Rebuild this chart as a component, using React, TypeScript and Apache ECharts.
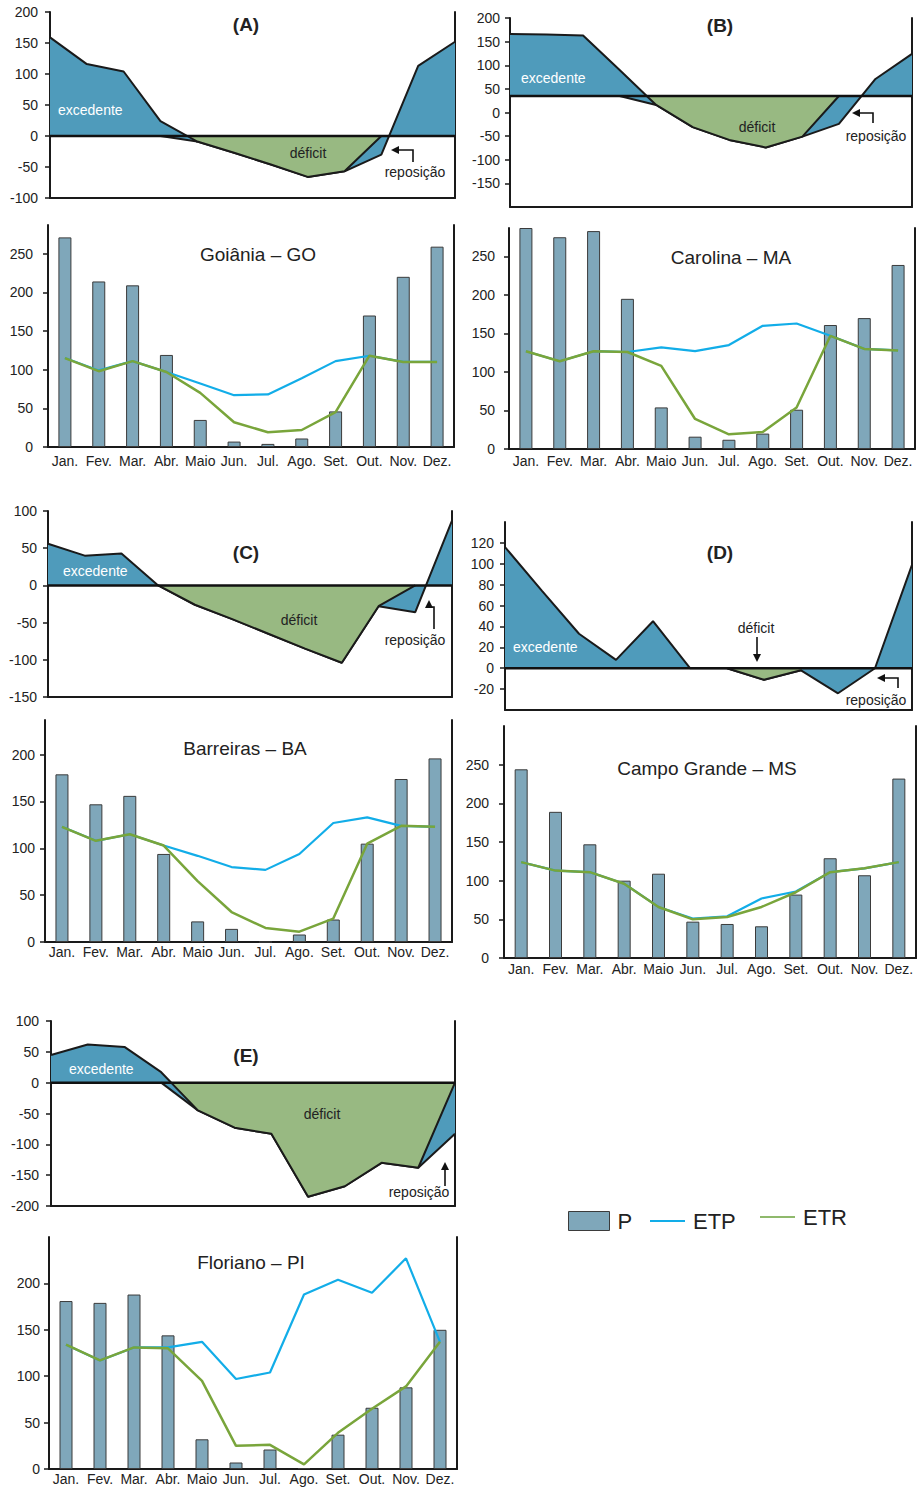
import React, { useEffect, useRef } from 'react';
import * as echarts from 'echarts';

const FONT = 'Liberation Sans, Arial, Helvetica, sans-serif';
const AX = '#1a1a1a';
const TXT = '#222222';
const BLUE = '#4f9bbb';
const GREEN = '#98b982';
const BAR = '#7fa7ba';
const ETPC = '#12ade8';
const ETRC = '#79a53b';

const months = ['Jan.', 'Fev.', 'Mar.', 'Abr.', 'Maio', 'Jun.', 'Jul.', 'Ago.', 'Set.', 'Out.', 'Nov.', 'Dez.'];

// Goiânia – GO
const goP = [271, 214, 209, 119, 35, 7, 4, 11, 46, 170, 220, 259];
const goETP = [115, 99, 111, 97, 82, 67, 68, 89, 111, 118, 110, 110];
const goETR = [115, 98, 111, 97, 70, 32, 19, 22, 45, 118, 110, 110];
// Carolina – MA
const caP = [287, 275, 283, 195, 54, 16, 12, 20, 51, 161, 170, 239];
const caETP = [127, 114, 127, 126, 132, 127, 135, 160, 163, 147, 130, 128];
const caETR = [127, 114, 127, 126, 108, 39, 19, 22, 54, 147, 130, 128];
// Barreiras – BA
const baP = [179, 147, 156, 94, 22, 14, 0, 8, 24, 105, 174, 196];
const baETP = [123, 108, 115, 103, 92, 80, 77, 94, 127, 133, 124, 123];
const baETR = [123, 108, 115, 103, 65, 32, 15, 11, 25, 105, 124, 123];
// Campo Grande – MS
const cgP = [244, 189, 147, 100, 109, 47, 44, 41, 82, 129, 107, 232];
const cgETP = [124, 113, 111, 96, 66, 51, 54, 77, 86, 111, 116, 124];
const cgETR = [124, 113, 111, 96, 66, 50, 53, 66, 85, 111, 116, 124];
// Floriano – PI
const flP = [181, 179, 188, 144, 32, 7, 21, 1, 37, 66, 88, 150];
const flETP = [134, 117, 131, 131, 137, 97, 104, 188, 204, 190, 227, 137];
const flETR = [134, 117, 131, 130, 95, 25, 26, 5, 39, 65, 89, 137];

// Water balance panels (A)–(E)
const aTop = [159, 116, 104, 24, -9, -27, -46, -66, -57, -30, 113, 152];
const aRet = [[3, 0], [4, -9]];
const aDef = [[3.73, 0], [4, -9], [5, -27], [6, -46], [7, -66], [8, -57], [9, 0]];
const bBase = 35;
const bTop = [166, 165, 163, 90, 16, -31, -58, -74, -51, -24, 71, 124];
const bRet = [[3, 35], [4, 16]];
const bDef = [[3.74, 35], [4, 16], [5, -31], [6, -58], [7, -74], [8, -51], [9, 35]];
const cTop = [56, 40, 43, 0, -26, -45, -65, -85, -104, -28, -36, 87];
const cDef = [[3, 0], [4, -26], [5, -45], [6, -65], [7, -85], [8, -104], [9, -28], [10, 0]];
const dTop = [116, 74, 33, 8, 45, 0, 0, -11, -2, -24, 0, 99];
const dDef = [[6, 0], [7, -11], [8, -2]];
const eTop = [45, 62, 58, 17, -45, -73, -83, -185, -168, -130, -138, -83];
const eRet = [[3, 0], [4, -45]];
const eDef = [[3.27, 0], [4, -45], [5, -73], [6, -83], [7, -185], [8, -168], [9, -130], [10, -138], [11, 0]];

const ticksA = [-100, -50, 0, 50, 100, 150, 200];
const ticksB = [-150, -100, -50, 0, 50, 100, 150, 200];
const ticksC = [-150, -100, -50, 0, 50, 100];
const ticksD = [-20, 0, 20, 40, 60, 80, 100, 120];
const ticksE = [-200, -150, -100, -50, 0, 50, 100];
const ticks250 = [0, 50, 100, 150, 200, 250];
const ticks200 = [0, 50, 100, 150, 200];

type GridDef = { left: number; top: number; width: number; height: number };

function buildOption() {
  const grids: any[] = [];
  const xAxes: any[] = [];
  const yAxes: any[] = [];
  const series: any[] = [];

  const addAxesY = (g: number, min: number, max: number, ticks: number[], margin: number) => {
    yAxes.push({
      type: 'value', gridIndex: g, position: 'left', min, max,
      axisLine: { show: true, onZero: false, lineStyle: { color: AX, width: 2 } },
      axisTick: { show: true, length: 5, customValues: ticks, lineStyle: { color: AX, width: 1.5 } },
      axisLabel: {
        customValues: ticks, margin, fontSize: 14, color: TXT, fontFamily: FONT,
        formatter: (v: number) => (ticks.indexOf(v) >= 0 ? String(v) : ''),
      },
      splitLine: { show: false },
    });
    yAxes.push({
      type: 'value', gridIndex: g, position: 'right', min, max,
      axisLine: { show: true, onZero: false, lineStyle: { color: AX, width: 2 } },
      axisTick: { show: false }, axisLabel: { show: false }, splitLine: { show: false },
    });
  };

  const addWB = (grid: GridDef, min: number, max: number, ticks: number[], margin: number,
    top: number[], ret: number[][] | null, def: number[][], base: number) => {
    const g = grids.length;
    grids.push({ ...grid, outerBoundsMode: 'none', containLabel: false });
    xAxes.push({
      type: 'value', gridIndex: g, min: 0, max: 11,
      axisLine: { show: true, onZero: false, lineStyle: { color: AX, width: 2 } },
      axisTick: { show: false }, axisLabel: { show: false }, splitLine: { show: false },
    });
    addAxesY(g, min, max, ticks, margin);
    const ax = { xAxisIndex: g, yAxisIndex: 2 * g };
    const outline = { color: AX, width: 2 };
    series.push({
      type: 'line', ...ax, data: top.map((v, i) => [i, v]), symbol: 'none', silent: true,
      lineStyle: outline, areaStyle: { color: BLUE, opacity: 1, origin: base }, z: 2,
    });
    if (ret) {
      series.push({
        type: 'line', ...ax, data: ret, symbol: 'none', silent: true,
        lineStyle: outline, areaStyle: { color: BLUE, opacity: 1, origin: base }, z: 3,
      });
    }
    series.push({
      type: 'line', ...ax, data: def, symbol: 'none', silent: true,
      lineStyle: outline, areaStyle: { color: GREEN, opacity: 1, origin: base }, z: 4,
    });
    series.push({
      type: 'line', ...ax, data: [[0, base], [11, base]], symbol: 'none', silent: true,
      lineStyle: { color: '#111', width: 2.5 }, z: 5,
    });
  };

  const addBars = (grid: GridDef, max: number, ticks: number[], yMargin: number, xMargin: number,
    p: number[], etp: number[], etr: number[]) => {
    const g = grids.length;
    grids.push({ ...grid, outerBoundsMode: 'none', containLabel: false });
    xAxes.push({
      type: 'category', gridIndex: g, data: months, boundaryGap: true,
      axisLine: { show: true, onZero: false, lineStyle: { color: AX, width: 2 } },
      axisTick: { show: false },
      axisLabel: { interval: 0, fontSize: 14, color: TXT, fontFamily: FONT, margin: xMargin },
      splitLine: { show: false },
    });
    addAxesY(g, 0, max, ticks, yMargin);
    const ax = { xAxisIndex: g, yAxisIndex: 2 * g };
    series.push({
      type: 'bar', name: 'P', ...ax, data: p, barWidth: 13, silent: true,
      itemStyle: { color: BAR, borderColor: '#3b3b3b', borderWidth: 1 }, z: 2,
    });
    series.push({
      type: 'line', name: 'ETP', ...ax, data: etp, symbol: 'none', silent: true, color: ETPC,
      lineStyle: { color: ETPC, width: 2.2 }, z: 3,
    });
    series.push({
      type: 'line', name: 'ETR', ...ax, data: etr, symbol: 'none', silent: true, color: ETRC,
      lineStyle: { color: ETRC, width: 2.5 }, z: 4,
    });
  };

  addWB({ left: 50, top: 12, width: 405, height: 186 }, -100, 200, ticksA, 12, aTop, aRet, aDef, 0);
  addBars({ left: 48, top: 225, width: 406, height: 222 }, 287, ticks250, 15, 7, goP, goETP, goETR);
  addWB({ left: 510, top: 18, width: 402, height: 189 }, -200, 200, ticksB, 10, bTop, bRet, bDef, bBase);
  addBars({ left: 509, top: 228, width: 406, height: 221 }, 287, ticks250, 14, 5, caP, caETP, caETR);
  addWB({ left: 48, top: 511, width: 404, height: 186 }, -150, 100, ticksC, 11, cTop, null, cDef, 0);
  addBars({ left: 45, top: 720, width: 407, height: 222 }, 237, ticks200, 10, 3, baP, baETP, baETR);
  addWB({ left: 505, top: 522, width: 407, height: 188 }, -40, 140, ticksD, 11, dTop, null, dDef, 0);
  addBars({ left: 504, top: 726, width: 412, height: 232 }, 300, ticks250, 15, 4, cgP, cgETP, cgETR);
  addWB({ left: 51, top: 1021, width: 404, height: 185 }, -200, 100, ticksE, 12, eTop, eRet, eDef, 0);
  addBars({ left: 49, top: 1237, width: 408, height: 232 }, 250, ticks200, 9, 3, flP, flETP, flETR);

  const text = (x: number, y: number, t: string, o: any = {}) => ({
    type: 'text', x, y, silent: true, z: 20,
    style: {
      text: t, fill: o.fill || TXT, fontSize: o.size || 14, fontFamily: FONT,
      fontWeight: o.bold ? 'bold' : 'normal', align: o.align || 'center', verticalAlign: 'middle',
    },
  });
  const pl = (pts: number[][]) => ({
    type: 'polyline', silent: true, z: 20, shape: { points: pts },
    style: { stroke: '#111', lineWidth: 1.6, fill: null },
  });
  const head = (pts: number[][]) => ({
    type: 'polygon', silent: true, z: 20, shape: { points: pts }, style: { fill: '#111' },
  });

  const graphic: any[] = [
    // panel letters
    text(246, 24, '(A)', { size: 19, bold: true }),
    text(720, 25, '(B)', { size: 19, bold: true }),
    text(246, 552, '(C)', { size: 19, bold: true }),
    text(720, 552, '(D)', { size: 19, bold: true }),
    text(246, 1055, '(E)', { size: 19, bold: true }),
    // city titles
    text(258, 254, 'Goiânia – GO', { size: 19 }),
    text(731, 257, 'Carolina – MA', { size: 19 }),
    text(245, 748, 'Barreiras – BA', { size: 19 }),
    text(707, 768, 'Campo Grande – MS', { size: 19 }),
    text(251, 1262, 'Floriano – PI', { size: 19 }),
    // excedente
    text(58, 110, 'excedente', { fill: '#ffffff', align: 'left' }),
    text(521, 78, 'excedente', { fill: '#ffffff', align: 'left' }),
    text(63, 571, 'excedente', { fill: '#ffffff', align: 'left' }),
    text(513, 647, 'excedente', { fill: '#ffffff', align: 'left' }),
    text(69, 1069, 'excedente', { fill: '#ffffff', align: 'left' }),
    // déficit
    text(308, 153, 'déficit'),
    text(757, 127, 'déficit'),
    text(299, 620, 'déficit'),
    text(756, 628, 'déficit'),
    text(322, 1114, 'déficit'),
    // reposição
    text(415, 172, 'reposição'),
    text(876, 136, 'reposição'),
    text(415, 640, 'reposição'),
    text(876, 700, 'reposição'),
    text(419, 1192, 'reposição'),
    // arrows
    pl([[413, 162], [413, 150], [398, 150]]), head([[391, 150], [399, 146], [399, 154]]),
    pl([[873, 123], [873, 113], [859, 113]]), head([[852, 113], [860, 109], [860, 117]]),
    pl([[434, 629], [434, 607], [430, 607]]), head([[429, 600], [425, 608], [433, 608]]),
    pl([[757, 637], [757, 655]]), head([[757, 662], [753, 654], [761, 654]]),
    pl([[898, 688], [898, 678], [884, 678]]), head([[877, 678], [885, 674], [885, 682]]),
    pl([[445, 1186], [445, 1169]]), head([[445, 1162], [441, 1170], [449, 1170]]),
  ];

  const legendBase = {
    orient: 'horizontal', padding: 0, selectedMode: false, itemGap: 0,
    textStyle: { fontSize: 22, color: TXT, fontFamily: FONT, padding: [0, 0, 0, 3] },
  };

  return {
    animation: false,
    backgroundColor: '#ffffff',
    grid: grids,
    xAxis: xAxes,
    yAxis: yAxes,
    series,
    legend: [
      {
        ...legendBase, left: 568, top: 1210, itemWidth: 41, itemHeight: 19,
        data: [{ name: 'P', icon: 'rect' }],
        itemStyle: { color: BAR, borderColor: '#3b3b3b', borderWidth: 1 },
      },
      {
        ...legendBase, left: 650, top: 1210, itemWidth: 35, itemHeight: 2,
        data: [{ name: 'ETP', icon: 'rect' }],
        itemStyle: { color: ETPC, borderWidth: 0 },
      },
      {
        ...legendBase, left: 760, top: 1206, itemWidth: 35, itemHeight: 2,
        data: [{ name: 'ETR', icon: 'rect' }],
        itemStyle: { color: '#8fb96c', borderWidth: 0 },
      },
    ],
    graphic,
  };
}

export default function App() {
  const ref = useRef<HTMLDivElement>(null);
  useEffect(() => {
    if (!ref.current) return;
    const chart = echarts.init(ref.current, null, { renderer: 'svg' });
    chart.setOption(buildOption() as any);
    return () => chart.dispose();
  }, []);
  return (
    <div
      ref={ref}
      style={{ position: 'absolute', left: 0, top: 0, width: 919, height: 1488, background: '#fff' }}
    />
  );
}
